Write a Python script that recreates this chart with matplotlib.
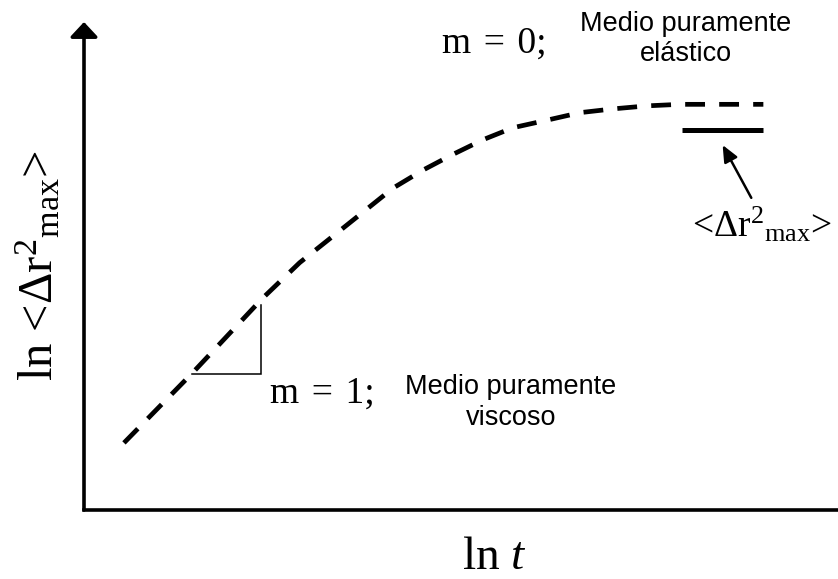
import matplotlib
matplotlib.use("Agg")
import matplotlib.pyplot as plt

plt.rcParams['font.family'] = ['Liberation Serif', 'DejaVu Serif']
plt.rcParams['mathtext.fontset'] = 'custom'
plt.rcParams['mathtext.rm'] = 'Liberation Serif'
plt.rcParams['mathtext.it'] = 'Liberation Serif:italic'

# Schematic mean-square displacement curve (ln t vs ln <dr^2>), arbitrary units
ln_t = [0.53, 1.45, 2.37, 2.86, 3.40, 4.10, 4.50, 4.88, 5.29, 5.69,
        6.14, 6.58, 7.02, 7.47, 7.90, 9.01]
ln_msd = [0.89, 1.83, 2.81, 3.28, 3.71, 4.27, 4.51, 4.71, 4.91, 5.07,
          5.17, 5.27, 5.32, 5.36, 5.38, 5.38]

# Slope triangle (m = 1) on the viscous branch
tri_x = [1.43, 2.35, 2.35]
tri_y = [1.80, 1.80, 2.72]

# Plateau marker <dr^2_max>
plateau_x = [7.93, 9.01]
plateau_y = 5.04
arrow_tail = (8.85, 4.14)
arrow_head = (8.47, 4.84)

x_max, y_max = 10.0, 6.472

W, H = 838, 579
fig = plt.figure(figsize=(W / 100, H / 100), dpi=100)
ax = fig.add_axes([84 / W, 69 / H, 754 / W, 488 / H])
ax.set_xlim(0, x_max)
ax.set_ylim(0, y_max)
ax.axis('off')

# Axes drawn by hand: horizontal line and vertical arrow
ax.plot([0, x_max], [0, 0], color='black', lw=2.6, solid_capstyle='projecting',
        clip_on=False)
ax.annotate('', xy=(0, y_max), xytext=(0, 0),
            arrowprops=dict(arrowstyle='-|>,head_length=0.45,head_width=0.42',
                            mutation_scale=20, lw=2.6, color='black',
                            shrinkA=0, shrinkB=0),
            annotation_clip=False)

# Dashed curve
ax.plot(ln_t, ln_msd, color='black', lw=3.4, linestyle=(0, (4.2, 3.0)),
        dash_capstyle='butt', clip_on=False)

# Slope triangle
ax.plot(tri_x, tri_y, color='black', lw=1.1, solid_joinstyle='miter')

# Plateau line and pointer
ax.plot(plateau_x, [plateau_y, plateau_y], color='black', lw=3.6,
        solid_capstyle='butt')
ax.annotate('', xy=arrow_head, xytext=arrow_tail,
            arrowprops=dict(arrowstyle='-|>,head_length=0.5,head_width=0.22',
                            mutation_scale=20, lw=1.8, color='black',
                            shrinkA=0, shrinkB=0))

sans = ['Liberation Sans', 'DejaVu Sans']
sp = '\u2004'

# Labels of the two regimes
ax.text(4.75, 6.07, f'm{sp}={sp}0;', fontsize=27, ha='left', va='baseline',
        clip_on=False)
ax.text(7.98, 5.95, 'Medio puramente\nelástico', family=sans, fontsize=19.5,
        ha='center', va='baseline', multialignment='center', linespacing=1.22,
        clip_on=False)

ax.text(2.47, 1.42, f'm{sp}={sp}1;', fontsize=27, ha='left', va='baseline',
        clip_on=False)
ax.text(5.66, 1.13, 'Medio puramente\nviscoso', family=sans, fontsize=19.5,
        ha='center', va='baseline', multialignment='center', linespacing=1.22,
        clip_on=False)

ax.text(8.06, 3.62, r'<Δr$^{2}{}_{\mathregular{max}}$>', fontsize=27,
        ha='left', va='baseline', clip_on=False)

# Axis titles
ax.text(5.44, -0.78, r'ln $t$', fontsize=34, ha='center', va='baseline',
        clip_on=False)
ax.text(-0.41, 3.24, r'ln <Δr$^{2}{}_{\mathregular{max}}$>', fontsize=35,
        rotation=90, rotation_mode='anchor', ha='center', va='baseline',
        clip_on=False)

fig.savefig('out.png', dpi=100)
